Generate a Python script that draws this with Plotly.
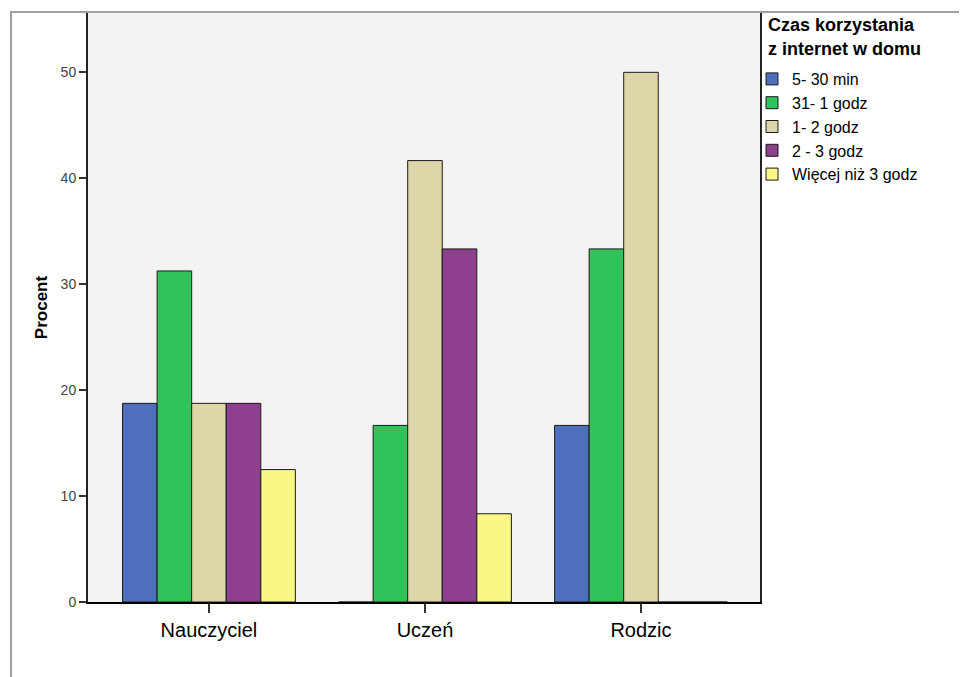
import plotly.graph_objects as go

categories = ["Nauczyciel", "Uczeń", "Rodzic"]
series_names = ["5- 30 min", "31- 1 godz", "1- 2 godz", "2 - 3 godz", "Więcej niż 3 godz"]
values_5_30 = [18.75, 0, 16.67]
values_31_1 = [31.25, 16.67, 33.33]
values_1_2 = [18.75, 41.67, 50.0]
values_2_3 = [18.75, 33.33, 0]
values_3plus = [12.5, 8.33, 0]
series_values = [values_5_30, values_31_1, values_1_2, values_2_3, values_3plus]
colors = ["#4E6FBC", "#31C25A", "#DCD6A9", "#8E3F8D", "#FAF783"]
y_ticks = [0, 10, 20, 30, 40, 50]
legend_title_lines = ["Czas korzystania", "z internet w domu"]

fig = go.Figure()
for name, vals, col in zip(series_names, series_values, colors):
    fig.add_trace(go.Bar(
        x=list(range(len(categories))), y=vals, name=name,
        marker=dict(color=col, line=dict(color="#1a1a1a", width=1)),
    ))

W, H = 967, 677
OFF = 8  # page offset of the figure (body margin)
l, r, t, b = 80, 215, 5, 83
pw, ph = W - l - r, H - t - b

def px_x(p):
    return (p - OFF - l) / pw

def px_y(p):
    return (H - b - (p - OFF)) / ph

annotations = []
for line, yc in zip(legend_title_lines, [25, 49]):
    annotations.append(dict(
        text="<b>" + line + "</b>", xref="paper", yref="paper",
        x=px_x(767), y=px_y(yc), xanchor="left", yanchor="middle",
        showarrow=False, font=dict(size=18, color="black"), borderpad=0,
    ))

fig.update_layout(
    width=W, height=H,
    margin=dict(l=l, r=r, t=t, b=b, autoexpand=False),
    paper_bgcolor="white",
    plot_bgcolor="#F3F3F3",
    barmode="group", bargap=0.2, bargroupgap=0,
    font=dict(family="Liberation Sans, Arial, sans-serif", color="black"),
    xaxis=dict(
        tickmode="array", tickvals=list(range(len(categories))), ticktext=categories,
        range=[-0.56, 2.551], showgrid=False, zeroline=False,
        showline=True, linecolor="black", linewidth=1.5,
        ticks="outside", ticklen=9, tickwidth=2, tickcolor="#333",
        tickfont=dict(size=20, color="black"),
    ),
    yaxis=dict(
        range=[0, 55.6], tickvals=y_ticks, showgrid=False, zeroline=False,
        showline=True, linecolor="#222", linewidth=2, mirror=True,
        ticks="outside", ticklen=7, tickwidth=1.5, tickcolor="#333",
        tickfont=dict(size=14, color="#444"),
        title=dict(text="<b>Procent</b>", font=dict(size=17, color="black"), standoff=9),
    ),
    legend=dict(
        x=px_x(752), y=px_y(62), xanchor="left", yanchor="top",
        bgcolor="rgba(0,0,0,0)",
        font=dict(size=16, color="black"),
        itemwidth=30, tracegroupgap=0,
    ),
    annotations=annotations,
    shapes=[
        dict(type="rect", xref="paper", yref="paper",
             x0=px_x(11), x1=px_x(966), y0=px_y(720), y1=px_y(12),
             line=dict(color="#A0A0A0", width=2), fillcolor="rgba(0,0,0,0)", layer="below"),
    ],
)

fig.write_html("out.html")
